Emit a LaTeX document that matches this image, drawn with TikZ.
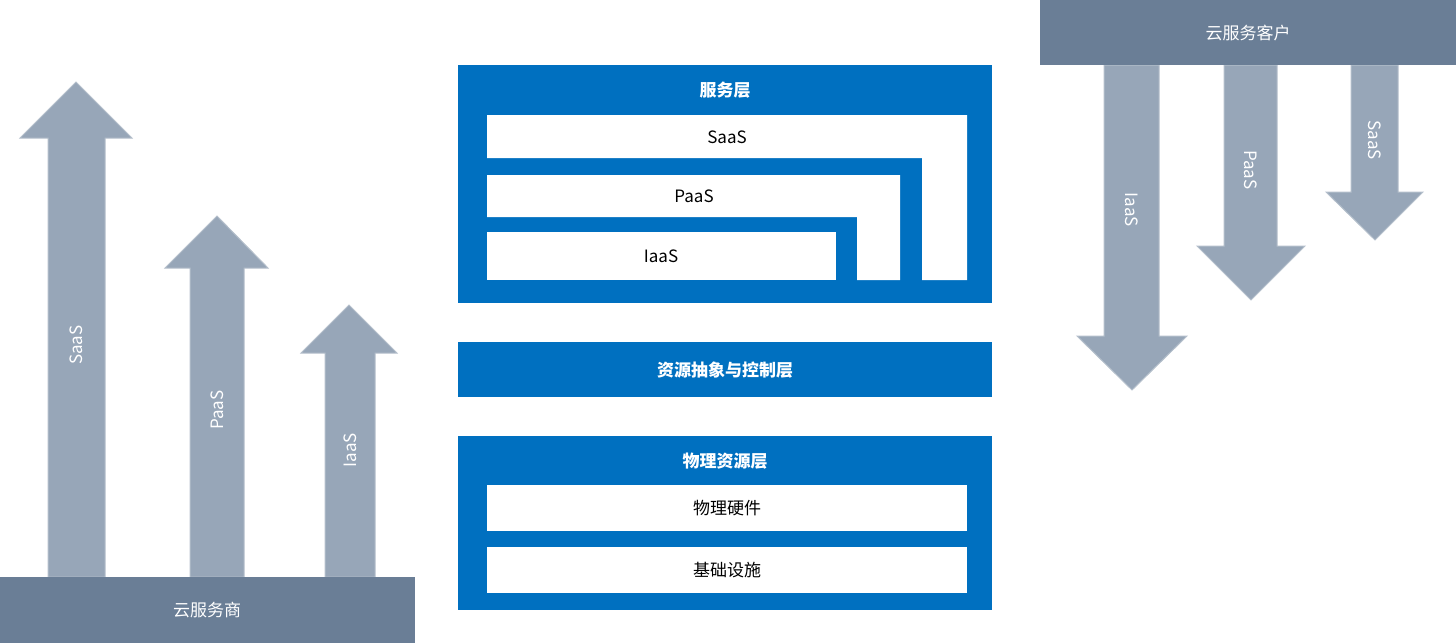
\documentclass[tikz,border=0pt]{standalone}
\usepackage{fontspec}
\setmainfont{Noto Sans CJK SC}
\definecolor{barc}{HTML}{6A7E96}
\definecolor{arrc}{HTML}{97A6B8}
\definecolor{arrb}{HTML}{B4BFCB}
\definecolor{blu}{HTML}{0070C0}
\begin{document}
\begin{tikzpicture}[x=1pt,y=-1pt,
  bar/.style={fill=barc,draw=none},
  arr/.style={fill=arrc,draw=arrb,line width=1pt},
  bluebox/.style={fill=blu,draw=none},
  wbox/.style={fill=white,draw=none},
  wt/.style={text=white,font=\fontsize{17}{20}\selectfont},
  bt/.style={text=white,font=\bfseries\fontsize{17}{20}\selectfont},
  kt/.style={text=black,font=\fontsize{17}{20}\selectfont}]
\useasboundingbox (0,0) rectangle (1456,643);
% left
\draw[arr] (48,577) -- (48,138) -- (20,138) -- (76,82) -- (132,138) -- (105,138) -- (105,577) -- cycle;
\draw[arr] (190,577) -- (190,268) -- (165,268) -- (217,216) -- (268,268) -- (244,268) -- (244,577) -- cycle;
\draw[arr] (325,577) -- (325,353) -- (301,353) -- (349,305) -- (397,353) -- (375,353) -- (375,577) -- cycle;
\node[wt,rotate=90] (ls) at (76,345) {SaaS};
\node[wt,rotate=90] (lp) at (217,410) {PaaS};
\node[wt,rotate=90] (li) at (350,450) {IaaS};
\fill[bar] (0,577) rectangle (415,643);
\node[wt] (prov) at (207,610) {云服务商};
% right
\draw[arr] (1104,65) -- (1104,336) -- (1077,336) -- (1132,390) -- (1187,336) -- (1159,336) -- (1159,65) -- cycle;
\draw[arr] (1224,65) -- (1224,246) -- (1197,246) -- (1251,300) -- (1305,246) -- (1277,246) -- (1277,65) -- cycle;
\draw[arr] (1351,65) -- (1351,192) -- (1326,192) -- (1375,240) -- (1423,192) -- (1398,192) -- (1398,65) -- cycle;
\node[wt,rotate=-90] (ri) at (1132,210) {IaaS};
\node[wt,rotate=-90] (rp) at (1251,170) {PaaS};
\node[wt,rotate=-90] (rs) at (1375,140) {SaaS};
\fill[bar] (1040,0) rectangle (1456,65);
\node[wt] (cust) at (1248,33) {云服务客户};
% center
\fill[bluebox] (458,65) rectangle (992,303);
\node[bt] (svc) at (725,90) {服务层};
\fill[wbox] (487,115) -- (967,115) -- (967,280) -- (922,280) -- (922,158) -- (487,158) -- cycle;
\fill[wbox] (487,175) -- (900,175) -- (900,280) -- (857,280) -- (857,217) -- (487,217) -- cycle;
\fill[wbox] (487,232) rectangle (836,280);
\node[kt] (saas) at (727,137) {SaaS};
\node[kt] (paas) at (694,196) {PaaS};
\node[kt] (iaas) at (661,256) {IaaS};
\fill[bluebox] (458,342) rectangle (992,397);
\node[bt] (res) at (725,370) {资源抽象与控制层};
\fill[bluebox] (458,436) rectangle (992,610);
\node[bt] (phy) at (725,461) {物理资源层};
\fill[wbox] (487,485) rectangle (967,531);
\fill[wbox] (487,547) rectangle (967,593);
\node[kt] (hw) at (727,508) {物理硬件};
\node[kt] (inf) at (727,570) {基础设施};
\end{tikzpicture}
\end{document}
